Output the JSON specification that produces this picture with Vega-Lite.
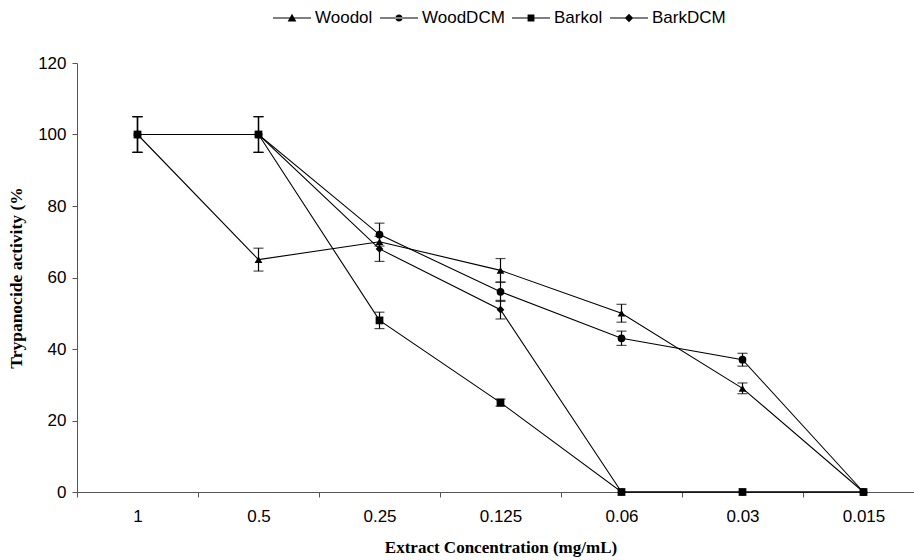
{
  "$schema": "https://vega.github.io/schema/vega-lite/v6.json",
  "autosize": {"type": "none"},
  "width": 837,
  "height": 429,
  "padding": {"left": 77, "top": 63, "right": 0, "bottom": 68},
  "background": "white",
  "config": {
    "view": {"stroke": null},
    "axis": {
      "labelFont": "Liberation Sans",
      "labelFontSize": 17,
      "labelColor": "black",
      "titleFont": "Liberation Serif",
      "titleFontWeight": "bold",
      "titleColor": "black",
      "titleFontSize": 17,
      "domainColor": "#555555",
      "tickColor": "#555555",
      "grid": false
    }
  },
  "data": {
    "values": [
      {"conc": "1", "series": "Woodol", "value": 100, "err": 5},
      {"conc": "0.5", "series": "Woodol", "value": 65, "err": 3.2},
      {"conc": "0.25", "series": "Woodol", "value": 70, "err": 0},
      {"conc": "0.125", "series": "Woodol", "value": 62, "err": 3.3},
      {"conc": "0.06", "series": "Woodol", "value": 50, "err": 2.5},
      {"conc": "0.03", "series": "Woodol", "value": 29, "err": 1.5},
      {"conc": "0.015", "series": "Woodol", "value": 0, "err": 0},
      {"conc": "1", "series": "WoodDCM", "value": 100, "err": 5},
      {"conc": "0.5", "series": "WoodDCM", "value": 100, "err": 5},
      {"conc": "0.25", "series": "WoodDCM", "value": 72, "err": 3.2},
      {"conc": "0.125", "series": "WoodDCM", "value": 56, "err": 2.7},
      {"conc": "0.06", "series": "WoodDCM", "value": 43, "err": 2},
      {"conc": "0.03", "series": "WoodDCM", "value": 37, "err": 1.8},
      {"conc": "0.015", "series": "WoodDCM", "value": 0, "err": 0},
      {"conc": "1", "series": "Barkol", "value": 100, "err": 5},
      {"conc": "0.5", "series": "Barkol", "value": 100, "err": 5},
      {"conc": "0.25", "series": "Barkol", "value": 48, "err": 2.3},
      {"conc": "0.125", "series": "Barkol", "value": 25, "err": 1},
      {"conc": "0.06", "series": "Barkol", "value": 0, "err": 0},
      {"conc": "0.03", "series": "Barkol", "value": 0, "err": 0},
      {"conc": "0.015", "series": "Barkol", "value": 0, "err": 0},
      {"conc": "1", "series": "BarkDCM", "value": 100, "err": 5},
      {"conc": "0.5", "series": "BarkDCM", "value": 100, "err": 5},
      {"conc": "0.25", "series": "BarkDCM", "value": 68, "err": 3.5},
      {"conc": "0.125", "series": "BarkDCM", "value": 51, "err": 2.6},
      {"conc": "0.06", "series": "BarkDCM", "value": 0, "err": 0},
      {"conc": "0.03", "series": "BarkDCM", "value": 0, "err": 0},
      {"conc": "0.015", "series": "BarkDCM", "value": 0, "err": 0}
    ]
  },
  "encoding": {
    "x": {
      "field": "conc",
      "type": "nominal",
      "sort": ["1", "0.5", "0.25", "0.125", "0.06", "0.03", "0.015"],
      "scale": {"type": "band", "paddingInner": 0, "paddingOuter": 0, "range": [0, 847]},
      "axis": {
        "title": "Extract Concentration (mg/mL)",
        "titleFontSize": 17,
        "titlePadding": 15,
        "labelAngle": 0,
        "labelPadding": 11,
        "tickBand": "extent",
        "tickSize": 5
      }
    },
    "y": {
      "field": "value",
      "type": "quantitative",
      "scale": {"domain": [0, 120]},
      "axis": {
        "title": "Trypanocide activity  (%",
        "titleFontSize": 17.5,
        "values": [0, 20, 40, 60, 80, 100, 120],
        "tickSize": 5,
        "labelPadding": 6,
        "titlePadding": 12
      }
    }
  },
  "layer": [
    {
      "transform": [{"filter": "datum.err > 0"}],
      "mark": {"type": "errorbar", "ticks": {"size": 10, "color": "black", "strokeWidth": 1.2}, "color": "black", "thickness": 1.2},
      "encoding": {
        "yError": {"field": "err"},
        "detail": {"field": "series"}
      }
    },
    {
      "mark": {"type": "line", "color": "black", "strokeWidth": 1.1},
      "encoding": {
        "detail": {"field": "series"}
      }
    },
    {
      "mark": {"type": "point", "filled": true, "color": "black", "opacity": 1, "size": 60},
      "encoding": {
        "shape": {
          "field": "series",
          "type": "nominal",
          "scale": {"domain": ["Woodol", "WoodDCM", "Barkol", "BarkDCM"], "range": ["triangle-up", "circle", "square", "diamond"]},
          "legend": null
        }
      }
    },
    {
      "mark": {"type": "point", "filled": true, "color": "black", "opacity": 0, "size": 60},
      "encoding": {
        "shape": {
          "field": "series",
          "type": "nominal",
          "scale": {
            "domain": ["Woodol", "WoodDCM", "Barkol", "BarkDCM"],
            "range": [
              "M-1,-0.028H1V0.028H-1Z M-0.23,0.19L0,-0.23L0.23,0.19Z",
              "M-1,-0.028H1V0.028H-1Z M-0.19,0A0.19,0.19 0 1,0 0.19,0A0.19,0.19 0 1,0 -0.19,0Z",
              "M-1,-0.028H1V0.028H-1Z M-0.18,-0.18H0.18V0.18H-0.18Z",
              "M-1,-0.028H1V0.028H-1Z M0,-0.22L0.22,0L0,0.22L-0.22,0Z"
            ]
          },
          "legend": {
            "orient": "none",
            "legendX": 196,
            "legendY": -64,
            "direction": "horizontal",
            "title": null,
            "symbolSize": 1444,
            "symbolOpacity": 1,
            "symbolFillColor": "black",
            "symbolStrokeWidth": 0,
            "labelFont": "Liberation Sans",
            "labelFontSize": 17,
            "labelColor": "black",
            "labelOffset": 4,
            "columnPadding": 7
          }
        }
      }
    }
  ],
  "resolve": {"scale": {"shape": "independent"}, "legend": {"shape": "independent"}}
}
